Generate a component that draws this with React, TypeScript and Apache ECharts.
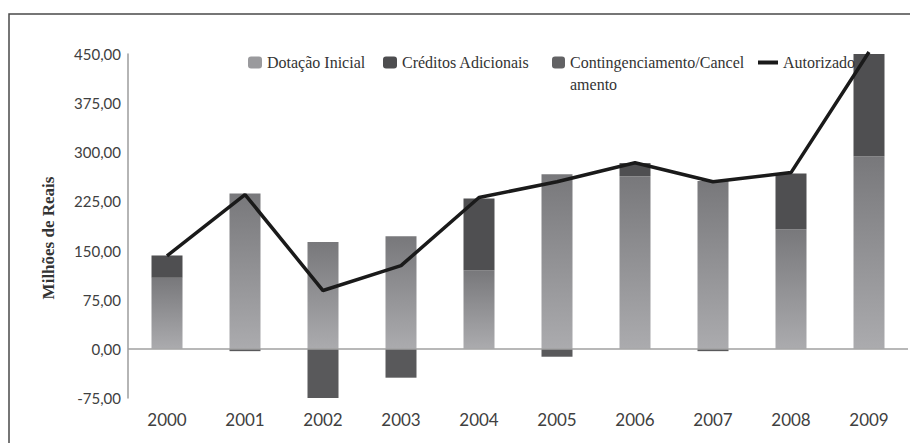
import React, { useEffect, useRef } from 'react';
import * as echarts from 'echarts';

const categories = ['2000', '2001', '2002', '2003', '2004', '2005', '2006', '2007', '2008', '2009'];
const dotacaoInicial = [108.5, 237, 163, 172, 120, 266.5, 263.5, 256, 182.5, 294];
const creditosAdicionais = [34, 0, 0, 0, 109.5, 0, 20, 0, 85, 156];
const contingenciamento = [0, -3.5, -75, -44, 0, -12, 0, -3.5, 0, 0];
const autorizado = [142, 235.5, 89, 127, 231, 255, 284, 255, 269, 453];
const yTicks = { min: -75, max: 450, interval: 75 };

const legendText = {
  fontFamily: 'Liberation Serif',
  fontSize: 16,
  color: '#333333',
  lineHeight: 22,
};

export default function App() {
  const ref = useRef<HTMLDivElement>(null);
  useEffect(() => {
    document.body.style.margin = '0';
    const chart = echarts.init(ref.current!, null, { renderer: 'svg' });
    const dotGradient = new echarts.graphic.LinearGradient(0, 0, 0, 1, [
      { offset: 0, color: '#78787b' },
      { offset: 1, color: '#ababae' },
    ]);
    chart.setOption({
      animation: false,
      backgroundColor: '#ffffff',
      graphic: [
        {
          type: 'rect',
          shape: { x: 9, y: 14, width: 920, height: 460 },
          style: { fill: 'none', stroke: '#4a4a4a', lineWidth: 1.5 },
          silent: true,
        },
        {
          type: 'text',
          x: 48.5,
          y: 238,
          rotation: Math.PI / 2,
          style: {
            text: 'Milhões de Reais',
            font: 'bold 17px Liberation Serif',
            fill: '#333333',
            align: 'center',
            verticalAlign: 'middle',
          },
        },
      ],
      legend: [
        {
          data: [{ name: 'Dotação Inicial', itemStyle: { color: '#9a9a9d' } }],
          left: 248, top: 51.5, padding: 0, itemWidth: 14, itemHeight: 12,
          textStyle: legendText, selectedMode: false,
        },
        {
          data: [{ name: 'Créditos Adicionais', itemStyle: { color: '#4d4d4f' } }],
          left: 383, top: 51.5, padding: 0, itemWidth: 14, itemHeight: 12,
          textStyle: legendText, selectedMode: false,
        },
        {
          data: [{ name: 'Contingenciamento/Cancelamento', itemStyle: { color: '#626264' } }],
          left: 552, top: 29.5, padding: 0, itemWidth: 13, itemHeight: 12,
          formatter: () => '\nContingenciamento/Cancel\namento',
          textStyle: legendText, selectedMode: false,
        },
        {
          data: [{ name: 'Autorizado', icon: 'rect', itemStyle: { color: '#1a1a1a' } }],
          left: 758, top: 51.5, padding: 0, itemWidth: 20, itemHeight: 4,
          textStyle: legendText, selectedMode: false,
        },
      ],
      grid: { left: 128, right: 2, top: 54, bottom: 45, containLabel: false },
      xAxis: {
        type: 'category',
        data: categories,
        axisLine: { show: false },
        axisTick: { show: false },
        axisLabel: {
          margin: 13,
          fontSize: 17,
          fontFamily: 'Lato',
          color: '#404040',
        },
      },
      yAxis: {
        type: 'value',
        min: yTicks.min,
        max: yTicks.max,
        interval: yTicks.interval,
        splitLine: { show: false },
        axisTick: { show: false },
        axisLine: { show: true, lineStyle: { color: '#9c9c9c', width: 1.5 } },
        axisLabel: {
          margin: 7,
          fontSize: 15,
          fontFamily: 'Lato',
          color: '#404040',
          formatter: (v: number) => v.toFixed(2).replace('.', ','),
        },
      },
      series: [
        {
          name: 'Dotação Inicial',
          type: 'bar',
          stack: 'total',
          barWidth: 31,
          data: dotacaoInicial,
          itemStyle: { color: dotGradient },
          markLine: {
            silent: true,
            symbol: 'none',
            label: { show: false },
            lineStyle: { color: '#a0a0a0', width: 1.5, type: 'solid' },
            data: [{ yAxis: 0 }],
          },
        },
        {
          name: 'Créditos Adicionais',
          type: 'bar',
          stack: 'total',
          barWidth: 31,
          data: creditosAdicionais,
          itemStyle: { color: '#4f4f51' },
        },
        {
          name: 'Contingenciamento/Cancelamento',
          type: 'bar',
          stack: 'total',
          barWidth: 31,
          data: contingenciamento,
          itemStyle: { color: '#59595b' },
        },
        {
          name: 'Autorizado',
          type: 'line',
          data: autorizado,
          symbol: 'none',
          clip: false,
          z: 5,
          itemStyle: { color: '#1a1a1a' },
          lineStyle: { color: '#1a1a1a', width: 3.5 },
        },
      ],
    });
    return () => chart.dispose();
  }, []);
  return <div ref={ref} style={{ width: 910, height: 443 }} />;
}
